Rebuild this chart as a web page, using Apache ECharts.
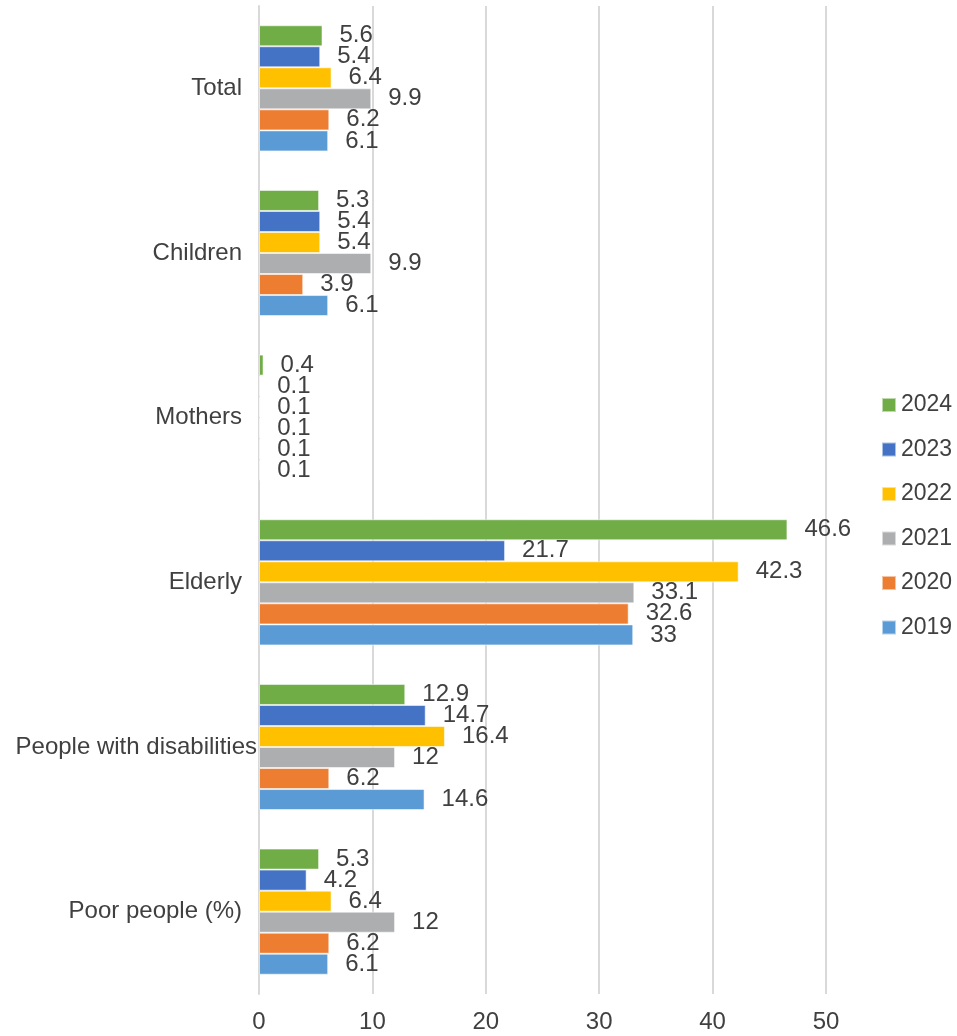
<!DOCTYPE html>
<html>
<head>
<meta charset="utf-8">
<script src="https://cdn.jsdelivr.net/npm/echarts@6/dist/echarts.min.js"></script>
<style>
html,body{margin:0;padding:0;background:#fff;}
#chart{width:957px;height:1036px;}
</style>
</head>
<body>
<div id="chart"></div>
<script>
const categories = ["Total", "Children", "Mothers", "Elderly", "People with disabilities", "Poor people (%)"];
const seriesNames = ["2024", "2023", "2022", "2021", "2020", "2019"];
const v2024 = [5.6, 5.3, 0.4, 46.6, 12.9, 5.3];
const v2023 = [5.4, 5.4, 0.1, 21.7, 14.7, 4.2];
const v2022 = [6.4, 5.4, 0.1, 42.3, 16.4, 6.4];
const v2021 = [9.9, 9.9, 0.1, 33.1, 12, 12];
const v2020 = [6.2, 3.9, 0.1, 32.6, 6.2, 6.2];
const v2019 = [6.1, 6.1, 0.1, 33, 14.6, 6.1];
const xTicks = [0, 10, 20, 30, 40, 50];

const values = [v2024, v2023, v2022, v2021, v2020, v2019];
const colors = ["#70AD47", "#4472C4", "#FFC000", "#ADAEB0", "#ED7D31", "#5B9BD5"];
const FONT = "Liberation Sans";
const FS = 24;
const TXT = "#404040";

const chart = echarts.init(document.getElementById('chart'), null, {renderer: 'canvas'});
chart.setOption({
  animation: false,
  color: colors,
  textStyle: {fontFamily: FONT},
  grid: {left: 259, right: 131, top: 6, bottom: 42, containLabel: false},
  legend: {
    orient: 'vertical',
    left: 881,
    top: 393,
    padding: 0,
    itemWidth: 14,
    itemHeight: 14,
    itemGap: 20.5,
    icon: 'rect',
    data: seriesNames,
    textStyle: {fontFamily: FONT, fontSize: 23, color: TXT, lineHeight: 24}
  },
  xAxis: {
    type: 'value',
    min: xTicks[0],
    max: xTicks[xTicks.length - 1],
    interval: 10,
    axisLine: {show: false},
    axisTick: {show: false},
    axisLabel: {fontFamily: FONT, fontSize: FS, color: TXT, margin: 16},
    splitLine: {show: true, lineStyle: {color: '#D9D9D9', width: 2}}
  },
  yAxis: {
    type: 'category',
    inverse: true,
    data: categories,
    axisLine: {show: true, lineStyle: {color: '#D9D9D9', width: 2}},
    axisTick: {show: false},
    axisLabel: {
      fontFamily: FONT, fontSize: FS, color: TXT, margin: 2,
      formatter: function (v) {
        return v.length > 20 ? '{l|' + v + '}' : '{n|' + v + '}';
      },
      rich: {
        l: {fontFamily: FONT, fontSize: FS, color: TXT, padding: [0, 0, 0, 0]},
        n: {fontFamily: FONT, fontSize: FS, color: TXT, padding: [0, 15, 0, 0]}
      }
    }
  },
  series: seriesNames.map((n, i) => ({
    name: n,
    type: 'bar',
    data: values[i],
    barGap: '0%',
    barCategoryGap: '23.4%',
    itemStyle: {color: colors[i], borderColor: 'rgba(255,255,255,0.55)', borderWidth: 1},
    label: {
      show: true,
      position: 'right',
      distance: 17,
      fontFamily: FONT,
      fontSize: FS,
      color: TXT
    }
  }))
});
</script>
</body>
</html>
